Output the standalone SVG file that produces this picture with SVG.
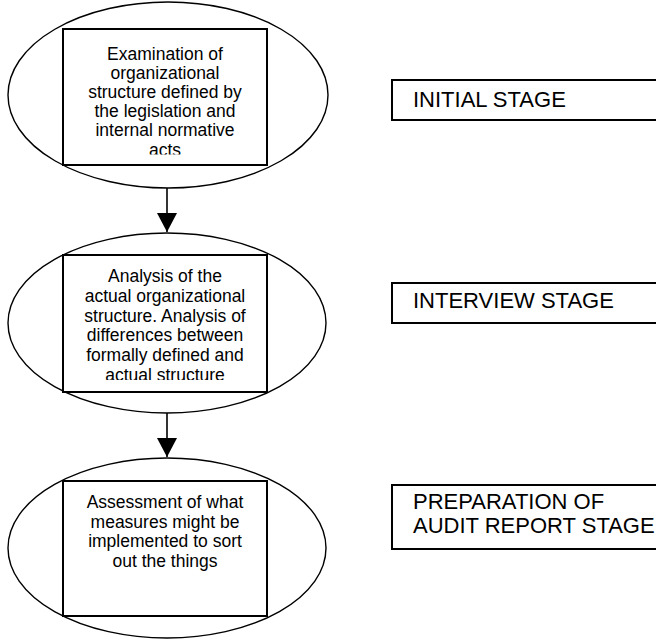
<svg xmlns="http://www.w3.org/2000/svg" width="656" height="639" viewBox="0 0 656 639">
  <style>
    .oval { fill: #ffffff; stroke: #000000; stroke-width: 1.4; }
    .box { fill: #ffffff; stroke: #000000; stroke-width: 2; }
    .stage { fill: #ffffff; stroke: #000000; stroke-width: 2; }
    .body { font-family: "Liberation Sans", Arial, sans-serif; font-size: 17.5px; fill: #000000; text-anchor: middle; }
    .label { font-family: "Liberation Sans", Arial, sans-serif; font-size: 22px; fill: #000000; }
    .link { fill: none; stroke: #000000; stroke-width: 1.6; }
  </style>
  <defs>
    <marker id="arrow" markerUnits="userSpaceOnUse" markerWidth="20" markerHeight="20" refX="19" refY="10" orient="auto">
      <path d="M0,0 L19,10 L0,20 Z" fill="#000000"/>
    </marker>
    <clipPath id="clip1"><rect x="63" y="29" width="204" height="125.5"/></clipPath>
    <clipPath id="clip2"><rect x="63" y="255" width="204" height="125"/></clipPath>
    <clipPath id="clip3"><rect x="63" y="481" width="204" height="125"/></clipPath>
  </defs>

  <rect x="0" y="0" width="656" height="639" fill="#ffffff"/>

  <!-- flow connectors -->
  <g id="connectors">
    <line class="link" x1="167" y1="188" x2="167" y2="232" marker-end="url(#arrow)"/>
    <line class="link" x1="167" y1="413" x2="167" y2="457" marker-end="url(#arrow)"/>
  </g>

  <!-- step 1 -->
  <g id="step-examination">
    <ellipse class="oval" cx="168" cy="95" rx="160" ry="93"/>
    <rect class="box" x="63" y="29" width="204" height="136"/>
    <g clip-path="url(#clip1)">
      <text class="body" x="165" y="59.5">Examination of</text>
      <text class="body" x="165" y="78.7">organizational</text>
      <text class="body" x="165" y="97.9">structure defined by</text>
      <text class="body" x="165" y="117.1">the legislation and</text>
      <text class="body" x="165" y="136.3">internal normative</text>
      <text class="body" x="165" y="155.5">acts</text>
    </g>
  </g>

  <!-- step 2 -->
  <g id="step-analysis">
    <ellipse class="oval" cx="167" cy="323" rx="159" ry="90"/>
    <rect class="box" x="63" y="255" width="204" height="137"/>
    <g clip-path="url(#clip2)">
      <text class="body" x="165" y="282">Analysis of the</text>
      <text class="body" x="165" y="301.8">actual organizational</text>
      <text class="body" x="165" y="321.6">structure. Analysis of</text>
      <text class="body" x="165" y="341.4">differences between</text>
      <text class="body" x="165" y="361.2">formally defined and</text>
      <text class="body" x="165" y="381">actual structure</text>
    </g>
  </g>

  <!-- step 3 -->
  <g id="step-assessment">
    <ellipse class="oval" cx="167" cy="548" rx="159" ry="90"/>
    <rect class="box" x="63" y="481" width="204" height="135"/>
    <g clip-path="url(#clip3)">
      <text class="body" x="165" y="508">Assessment of what</text>
      <text class="body" x="165" y="527.7">measures might be</text>
      <text class="body" x="165" y="547.4">implemented to sort</text>
      <text class="body" x="165" y="567.1">out the things</text>
    </g>
  </g>

  <!-- stage labels -->
  <g id="stage-initial">
    <rect class="stage" x="392" y="80" width="280" height="40"/>
    <text class="label" x="413" y="106.5">INITIAL STAGE</text>
  </g>
  <g id="stage-interview">
    <rect class="stage" x="392" y="283" width="280" height="40"/>
    <text class="label" x="413" y="308">INTERVIEW STAGE</text>
  </g>
  <g id="stage-report">
    <rect class="stage" x="392" y="485" width="280" height="64"/>
    <text class="label" x="413" y="509">PREPARATION OF</text>
    <text class="label" x="413" y="533">AUDIT REPORT STAGE</text>
  </g>
</svg>
